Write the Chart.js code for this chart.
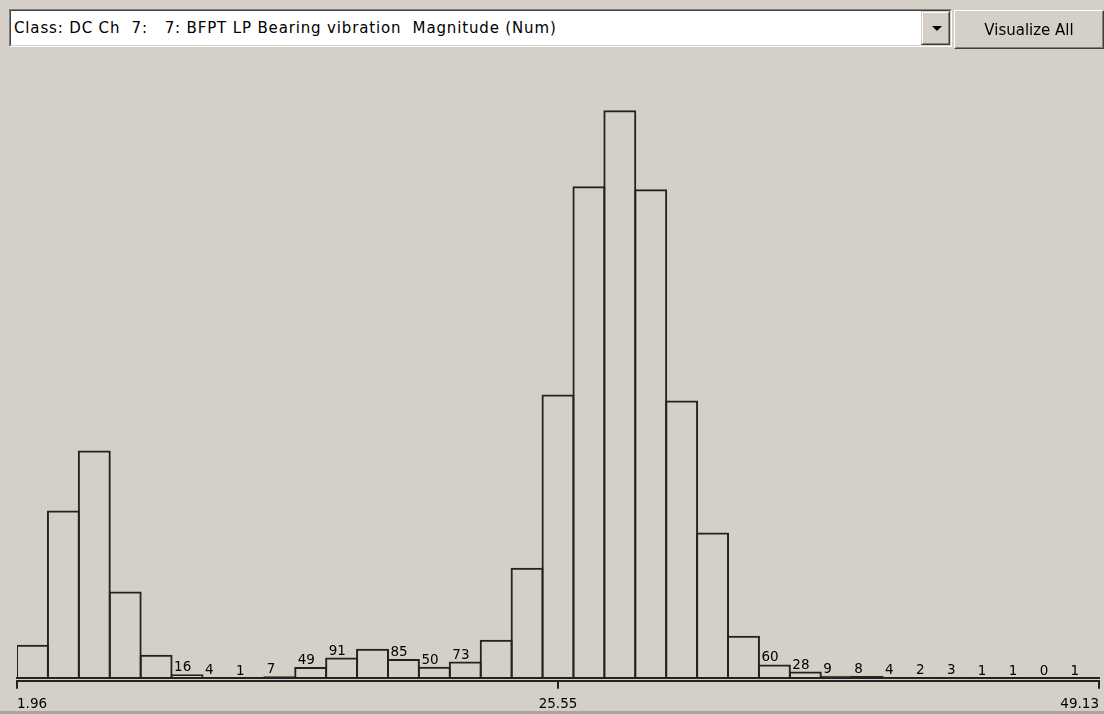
<!DOCTYPE html>
<html>
<head>
<meta charset="utf-8">
<script src="https://cdn.jsdelivr.net/npm/chart.js@4.4.0/dist/chart.umd.min.js"></script>
<style>
  html, body { margin:0; padding:0; width:1104px; height:714px; overflow:hidden; background:#d4d0c8; font-family:"DejaVu Sans", sans-serif; }
  #chartCanvas { position:absolute; left:0; top:0; }
  #combo { position:absolute; left:9px; top:9px; width:943px; height:38px; box-sizing:border-box;
           border-style:solid; border-width:1px; border-color:#808080 #ffffff #ffffff #808080; background:#fff; }
  #comboIn { position:absolute; left:0; top:0; right:0; bottom:0;
             border-style:solid; border-width:1px; border-color:#404040 #d4d0c8 #d4d0c8 #404040; }
  #comboText { position:absolute; left:3px; top:8px; font-size:15px; line-height:18px; color:#000; white-space:pre; letter-spacing:0.85px; }
  #drop { position:absolute; right:0px; top:0px; width:29px; bottom:0px; box-sizing:border-box; background:#d4d0c8;
          border-style:solid; border-width:1px; border-color:#d4d0c8 #404040 #404040 #d4d0c8; }
  #dropIn { position:absolute; left:0; top:0; right:0; bottom:0; border-style:solid; border-width:1px; border-color:#ffffff #808080 #808080 #ffffff; }
  #tri { position:absolute; left:9px; top:13px; width:0; height:0; border-left:5px solid transparent; border-right:5px solid transparent; border-top:5px solid #000; }
  #btn { position:absolute; left:954px; top:10px; width:150px; height:39px; box-sizing:border-box; background:#d4d0c8;
         border-style:solid; border-width:1px; border-color:#ffffff #404040 #404040 #ffffff; }
  #btnIn { position:absolute; left:0; top:0; right:0; bottom:0; border-style:solid; border-width:1px; border-color:#d4d0c8 #808080 #808080 #d4d0c8; }
  #btnText { position:absolute; left:0; right:0; top:9px; text-align:center; font-size:15px; line-height:18px; color:#000; white-space:pre; }
  #bottomLine { position:absolute; left:0; top:711px; width:1104px; height:3px; background:#aaa69e; }
</style>
</head>
<body>
<canvas id="chartCanvas" width="1104" height="714"></canvas>
<div id="combo"><div id="comboIn">
  <div id="comboText">Class: DC Ch  7:   7: BFPT LP Bearing vibration  Magnitude (Num)</div>
  <div id="drop"><div id="dropIn"><div id="tri"></div></div></div>
</div></div>
<div id="btn"><div id="btnIn"><div id="btnText">Visualize All</div></div></div>
<div id="bottomLine"></div>
<script>
// ---- data ----
const bins = ['1','2','3','4','5','6','7','8','9','10','11','12','13','14','15','16','17','18',
              '19','20','21','22','23','24','25','26','27','28','29','30','31','32','33','34','35'];
const counts = [149, 752, 1022, 388, 104, 16, 4, 1, 7, 49, 91, 131, 85, 50, 73, 171, 495, 1274,
                2210, 2552, 2196, 1247, 653, 189, 60, 28, 9, 8, 4, 2, 3, 1, 1, 0, 1];
const tickValues = [1.96, 25.545, 49.13];
const tickLabels = ['1.96', '25.55', '49.13'];
const rangeMin = 1.96;
const rangeMax = 49.13;
const labelLimit = 100;   // counts below this get a number above the bar

const INK = '#222222';
const FONT = '"DejaVu Sans", sans-serif';

const countLabels = {
  id: 'countLabels',
  afterDatasetsDraw(chart) {
    const meta = chart.getDatasetMeta(0);
    const xs = chart.scales.x;
    const ctx = chart.ctx;
    const step = (xs.getPixelForValue(1) - xs.getPixelForValue(0));
    ctx.save();
    ctx.font = '13.5px ' + FONT;
    ctx.fillStyle = '#000';
    ctx.textAlign = 'left';
    ctx.textBaseline = 'alphabetic';
    meta.data.forEach((bar, i) => {
      const v = counts[i];
      if (v >= labelLimit) return;
      const left = xs.getPixelForValue(i) - step / 2;
      ctx.fillText(String(v), left + 2.5, bar.y - 3);
    });
    ctx.restore();
  }
};

new Chart(document.getElementById('chartCanvas'), {
  type: 'bar',
  data: {
    labels: bins,
    datasets: [{
      data: counts,
      backgroundColor: 'rgba(0,0,0,0)',
      borderColor: INK,
      borderWidth: 2,
      borderSkipped: 'bottom',
      categoryPercentage: 1.0,
      barPercentage: 1.065
    }]
  },
  options: {
    responsive: false,
    animation: false,
    devicePixelRatio: 1,
    layout: { padding: { left: 17, right: 5, top: 55, bottom: -7 } },
    plugins: { legend: { display: false }, tooltip: { enabled: false } },
    scales: {
      y: { display: false, min: 0, max: 2800 },
      x: {
        position: 'bottom',
        ticks: { display: false },
        grid: { display: true, drawOnChartArea: false, drawTicks: true, tickLength: 3, color: 'rgba(0,0,0,0)' },
        border: { display: true, color: INK, width: 2 }
      },
      x2: {
        type: 'linear',
        position: 'bottom',
        offset: false,
        min: rangeMin,
        max: rangeMax,
        afterBuildTicks(scale) { scale.ticks = tickValues.map(v => ({ value: v })); },
        ticks: {
          align: 'inner',
          maxRotation: 0,
          autoSkip: false,
          padding: 5,
          color: '#000',
          font: { family: FONT, size: 13.5, lineHeight: '22.2px' },
          callback: (val, idx) => tickLabels[idx]
        },
        grid: { display: true, offset: false, drawOnChartArea: false, drawTicks: true, tickLength: 8, tickColor: INK, tickWidth: 2, lineWidth: 2, color: INK },
        border: { display: true, color: INK, width: 2 }
      }
    }
  },
  plugins: [countLabels]
});
</script>
</body>
</html>
